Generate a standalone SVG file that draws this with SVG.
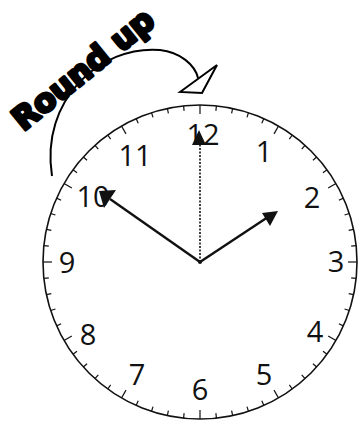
<svg xmlns="http://www.w3.org/2000/svg" xmlns:xlink="http://www.w3.org/1999/xlink" width="359" height="426" viewBox="0 0 359 426">
<style>
.tk{stroke:#111;stroke-width:1.2}
.num{font-family:"Open Sans","DejaVu Sans",sans-serif;font-weight:400;font-size:29px;fill:#111;text-anchor:middle}
.hand{stroke:#111;stroke-width:2.4;fill:none}
.cap{font-family:"DejaVu Sans",sans-serif;font-weight:bold;font-size:32px;fill:#000;stroke:#000;stroke-width:3;stroke-linejoin:round}
</style>
<defs>
<line id="m" class="tk" x1="200" y1="105" x2="200" y2="110"/>
<line id="h" class="tk" x1="200" y1="105" x2="200" y2="114"/>
</defs>
<rect width="359" height="426" fill="#fff"/>
<g id="caption">
<text class="cap" x="90" y="78" text-anchor="middle" transform="rotate(-39 90 78)">Round up</text>
<path d="M52,176 C40,100 100,45 160,50 C180,52 195,65 198,78" fill="none" stroke="#000" stroke-width="2"/>
<polygon points="180,92 217,65 202,93" fill="#fff" stroke="#000" stroke-width="2" stroke-linejoin="miter"/>
</g>
<g id="face">
<circle cx="200" cy="262" r="157" fill="none" stroke="#111" stroke-width="1.6"/>
<g id="ticks">
<use href="#h" transform="rotate(0 200 262)"/>
<use href="#m" transform="rotate(6 200 262)"/><use href="#m" transform="rotate(12 200 262)"/><use href="#m" transform="rotate(18 200 262)"/><use href="#m" transform="rotate(24 200 262)"/>
<use href="#h" transform="rotate(30 200 262)"/>
<use href="#m" transform="rotate(36 200 262)"/><use href="#m" transform="rotate(42 200 262)"/><use href="#m" transform="rotate(48 200 262)"/><use href="#m" transform="rotate(54 200 262)"/>
<use href="#h" transform="rotate(60 200 262)"/>
<use href="#m" transform="rotate(66 200 262)"/><use href="#m" transform="rotate(72 200 262)"/><use href="#m" transform="rotate(78 200 262)"/><use href="#m" transform="rotate(84 200 262)"/>
<use href="#h" transform="rotate(90 200 262)"/>
<use href="#m" transform="rotate(96 200 262)"/><use href="#m" transform="rotate(102 200 262)"/><use href="#m" transform="rotate(108 200 262)"/><use href="#m" transform="rotate(114 200 262)"/>
<use href="#h" transform="rotate(120 200 262)"/>
<use href="#m" transform="rotate(126 200 262)"/><use href="#m" transform="rotate(132 200 262)"/><use href="#m" transform="rotate(138 200 262)"/><use href="#m" transform="rotate(144 200 262)"/>
<use href="#h" transform="rotate(150 200 262)"/>
<use href="#m" transform="rotate(156 200 262)"/><use href="#m" transform="rotate(162 200 262)"/><use href="#m" transform="rotate(168 200 262)"/><use href="#m" transform="rotate(174 200 262)"/>
<use href="#h" transform="rotate(180 200 262)"/>
<use href="#m" transform="rotate(186 200 262)"/><use href="#m" transform="rotate(192 200 262)"/><use href="#m" transform="rotate(198 200 262)"/><use href="#m" transform="rotate(204 200 262)"/>
<use href="#h" transform="rotate(210 200 262)"/>
<use href="#m" transform="rotate(216 200 262)"/><use href="#m" transform="rotate(222 200 262)"/><use href="#m" transform="rotate(228 200 262)"/><use href="#m" transform="rotate(234 200 262)"/>
<use href="#h" transform="rotate(240 200 262)"/>
<use href="#m" transform="rotate(246 200 262)"/><use href="#m" transform="rotate(252 200 262)"/><use href="#m" transform="rotate(258 200 262)"/><use href="#m" transform="rotate(264 200 262)"/>
<use href="#h" transform="rotate(270 200 262)"/>
<use href="#m" transform="rotate(276 200 262)"/><use href="#m" transform="rotate(282 200 262)"/><use href="#m" transform="rotate(288 200 262)"/><use href="#m" transform="rotate(294 200 262)"/>
<use href="#h" transform="rotate(300 200 262)"/>
<use href="#m" transform="rotate(306 200 262)"/><use href="#m" transform="rotate(312 200 262)"/><use href="#m" transform="rotate(318 200 262)"/><use href="#m" transform="rotate(324 200 262)"/>
<use href="#h" transform="rotate(330 200 262)"/>
<use href="#m" transform="rotate(336 200 262)"/><use href="#m" transform="rotate(342 200 262)"/><use href="#m" transform="rotate(348 200 262)"/><use href="#m" transform="rotate(354 200 262)"/>
</g>
<g id="numbers">
<text class="num" x="203" y="145">12</text>
<text class="num" x="264" y="162">1</text>
<text class="num" x="312" y="208">2</text>
<text class="num" x="336" y="272">3</text>
<text class="num" x="315" y="342">4</text>
<text class="num" x="264" y="385">5</text>
<text class="num" x="200" y="400">6</text>
<text class="num" x="137" y="385">7</text>
<text class="num" x="88" y="345">8</text>
<text class="num" x="67" y="273">9</text>
<text class="num" x="93" y="207">10</text>
<text class="num" x="135" y="166">11</text>
</g>
</g>
<g id="hands">
<line x1="200" y1="262" x2="200" y2="145" stroke="#111" stroke-width="1.6" stroke-dasharray="2,1.5"/>
<polygon points="199,130 192,145 206,145" fill="#111"/>
<line class="hand" x1="200" y1="262" x2="110" y2="199"/>
<polygon points="99,191 104,208 116,190" fill="#111"/>
<line class="hand" x1="200" y1="262" x2="268" y2="217"/>
<polygon points="278,211 262,213 270,226" fill="#111"/>
<circle cx="200" cy="262" r="2" fill="#111"/>
</g>
</svg>
